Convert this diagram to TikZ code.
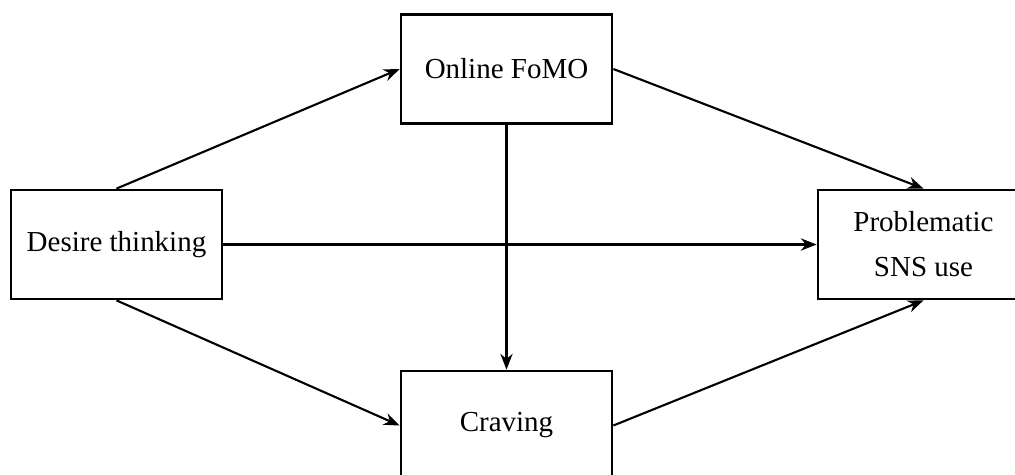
\documentclass[tikz,border=0pt]{standalone}
\usepackage{fontspec}
\setmainfont{Liberation Serif}
\usetikzlibrary{arrows.meta}

\begin{document}
\begin{tikzpicture}[x=0.02cm,y=-0.02cm,>={Stealth[length=9pt,width=7pt]},
	box/.style={draw,line width=1.6pt,minimum width=4.22cm,minimum height=2.18cm,
		align=center,font=\fontsize{16.5}{25.6}\selectfont},
	link/.style={->,line width=1.2pt}]

\useasboundingbox (0,0) rectangle (1015,474);

\node [box] (desire) at (116.5,244.5) {Desire thinking};
\node [box] (fomo) at (506.5,69) {Online FoMO};
\node [box] (craving) at (506.5,425.5) {Craving};
\node [box] (psu) at (923.5,244.5) {Problematic\\SNS use};

\path
	(desire.north)
		edge [link] (fomo.west)
	(desire.east)
		edge [link] (psu.west)
	(desire.south)
		edge [link] (craving.west)
	(fomo.south)
		edge [link] (craving.north)
	(fomo.east)
		edge [link] (psu.north)
	(craving.east)
		edge [link] (psu.south)
;

\end{tikzpicture}
\end{document}
